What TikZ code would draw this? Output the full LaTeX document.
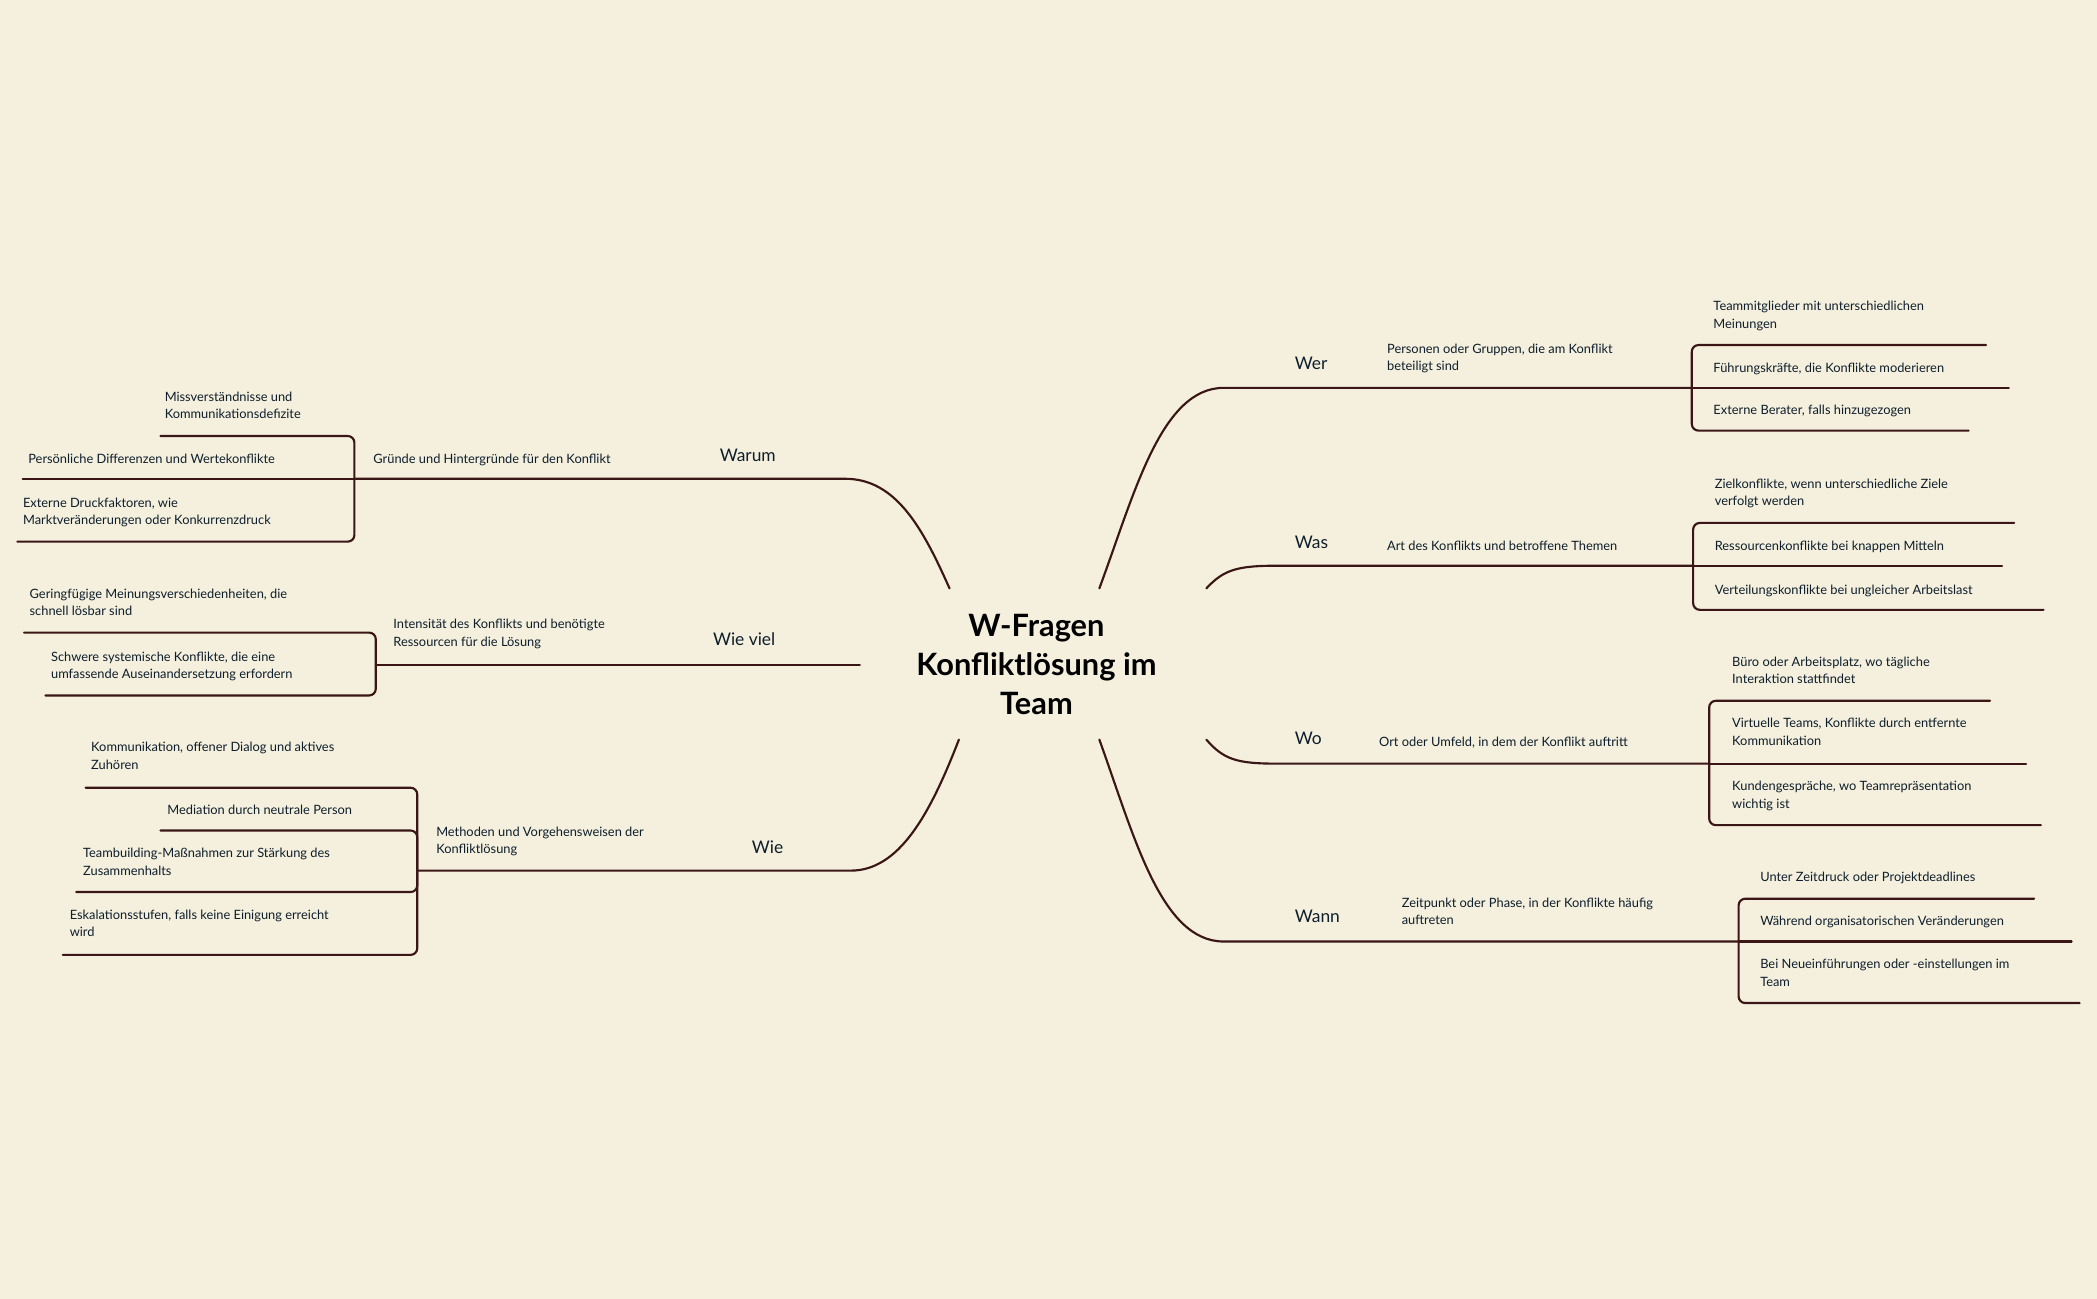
\documentclass[tikz,border=0pt]{standalone}
\usepackage{fontspec}
\setmainfont{Lato}
\usetikzlibrary{positioning}
\definecolor{paper}{HTML}{F4F0DD}
\definecolor{ink}{HTML}{3A1616}
\definecolor{txt}{HTML}{0E1E2C}
\tikzset{
  branch/.style={draw=ink, line width=1.6pt, line cap=round},
  bracket/.style={branch, rounded corners=5pt},
  leaf/.style={font=\fontsize{9.6}{13}\selectfont, text=txt, anchor=north west, align=left, inner sep=0pt},
  key/.style={font=\fontsize{13}{15}\selectfont, text=txt, anchor=base west, inner sep=0pt},
  root/.style={font=\bfseries\fontsize{23}{29}\selectfont, text=black, align=center}
}
\begin{document}
\begin{tikzpicture}[x=1pt, y=-1pt]
\useasboundingbox[fill=paper] (0,0) rectangle (1568,971);

% centre
\node (root) [root] at (775,497) {W-Fragen\\Konfliktlösung im\\Team};

% Wer
\coordinate (wer-s) at (822,440); \coordinate (wer-b) at (1265,290);
\draw[branch] (wer-s) .. controls (848,370) and (868,290) .. (915,290) -- (wer-b);
\node (wer) [key] at (968,276) {Wer};
\node (wer-t) [leaf] at (1037,257) {Personen oder Gruppen, die am Konflikt\\beteiligt sind};
\coordinate (wer1) at (1485,258); \coordinate (wer2) at (1502,290); \coordinate (wer3) at (1472,322);
\draw[bracket] (wer1) -| (wer-b) |- (wer3);
\draw[branch] (wer-b) -- (wer2);
\node [leaf] at (1281,225) {Teammitglieder mit unterschiedlichen\\Meinungen};
\node [leaf] at (1281,271) {Führungskräfte, die Konflikte moderieren};
\node [leaf] at (1281,303) {Externe Berater, falls hinzugezogen};

% Was
\coordinate (was-s) at (902,440); \coordinate (was-b) at (1266,423);
\draw[branch] (was-s) .. controls (915,426) and (925,423) .. (955,423) -- (was-b);
\node (was) [key] at (968,410) {Was};
\node (was-t) [leaf] at (1037,404) {Art des Konflikts und betroffene Themen};
\coordinate (was1) at (1506,391); \coordinate (was2) at (1497,423); \coordinate (was3) at (1528,456);
\draw[bracket] (was1) -| (was-b) |- (was3);
\draw[branch] (was-b) -- (was2);
\node [leaf] at (1282,358) {Zielkonflikte, wenn unterschiedliche Ziele\\verfolgt werden};
\node [leaf] at (1282,404) {Ressourcenkonflikte bei knappen Mitteln};
\node [leaf] at (1282,437) {Verteilungskonflikte bei ungleicher Arbeitslast};

% Wo
\coordinate (wo-s) at (902,553); \coordinate (wo-b) at (1278,571);
\draw[branch] (wo-s) .. controls (915,568) and (925,571) .. (955,571) -- (wo-b);
\node (wo) [key] at (968,557) {Wo};
\node (wo-t) [leaf] at (1031,551) {Ort oder Umfeld, in dem der Konflikt auftritt};
\coordinate (wo1) at (1488,524); \coordinate (wo2) at (1515,571); \coordinate (wo3) at (1526,617);
\draw[bracket] (wo1) -| (wo-b) |- (wo3);
\draw[branch] (wo-b) -- (wo2);
\node [leaf] at (1295,491) {Büro oder Arbeitsplatz, wo tägliche\\Interaktion stattfindet};
\node [leaf] at (1295,537) {Virtuelle Teams, Konflikte durch entfernte\\Kommunikation};
\node [leaf] at (1295,584) {Kundengespräche, wo Teamrepräsentation\\wichtig ist};

% Wann
\coordinate (wann-s) at (822,553); \coordinate (wann-b) at (1300,704);
\draw[branch] (wann-s) .. controls (848,625) and (868,704) .. (915,704) -- (wann-b);
\node (wann) [key] at (968,690) {Wann};
\node (wann-t) [leaf] at (1048,671) {Zeitpunkt oder Phase, in der Konflikte häufig\\auftreten};
\coordinate (wann1) at (1521,672); \coordinate (wann2) at (1549,704); \coordinate (wann3) at (1555,750);
\draw[bracket] (wann1) -| (wann-b) |- (wann3);
\draw[branch] (wann-b) -- (wann2);
\node [leaf] at (1316,652) {Unter Zeitdruck oder Projektdeadlines};
\node [leaf] at (1316,685) {Während organisatorischen Veränderungen};
\node [leaf] at (1316,717) {Bei Neueinführungen oder -einstellungen im\\Team};

% Warum
\coordinate (warum-s) at (710,440); \coordinate (warum-b) at (265,358);
\draw[branch] (warum-s) .. controls (690,395) and (670,358) .. (632,358) -- (warum-b);
\node (warum) [key] at (538,345) {Warum};
\node (warum-t) [leaf] at (279,339) {Gründe und Hintergründe für den Konflikt};
\coordinate (warum1) at (120,326); \coordinate (warum2) at (17,358); \coordinate (warum3) at (13,405);
\draw[bracket] (warum1) -| (warum-b) |- (warum3);
\draw[branch] (warum-b) -- (warum2);
\node [leaf] at (123,293) {Missverständnisse und\\Kommunikationsdefizite};
\node [leaf] at (21,339) {Persönliche Differenzen und Wertekonflikte};
\node [leaf] at (17,372) {Externe Druckfaktoren, wie\\Marktveränderungen oder Konkurrenzdruck};

% Wie viel
\coordinate (wieviel-s) at (643,497); \coordinate (wieviel-b) at (281,497);
\draw[branch] (wieviel-s) -- (wieviel-b);
\node (wieviel) [key] at (533,483) {Wie viel};
\node (wieviel-t) [leaf] at (294,463) {Intensität des Konflikts und benötigte\\Ressourcen für die Lösung};
\coordinate (wieviel1) at (18,473); \coordinate (wieviel2) at (34,520);
\draw[bracket] (wieviel1) -| (wieviel-b) |- (wieviel2);
\node [leaf] at (22,440) {Geringfügige Meinungsverschiedenheiten, die\\schnell lösbar sind};
\node [leaf] at (38,487) {Schwere systemische Konflikte, die eine\\umfassende Auseinandersetzung erfordern};

% Wie
\coordinate (wie-s) at (717,553); \coordinate (wie-b) at (312,651);
\draw[branch] (wie-s) .. controls (695,610) and (672,651) .. (636,651) -- (wie-b);
\node (wie) [key] at (562,638) {Wie};
\node (wie-t) [leaf] at (326,618) {Methoden und Vorgehensweisen der\\Konfliktlösung};
\coordinate (wie1) at (64,589); \coordinate (wie2) at (120,621); \coordinate (wie3) at (57,667); \coordinate (wie4) at (47,714);
\draw[bracket] (wie1) -| (wie-b) |- (wie4);
\draw[bracket] (wie2) -| (wie-b);
\draw[bracket] (wie3) -| (wie-b);
\node [leaf] at (68,555) {Kommunikation, offener Dialog und aktives\\Zuhören};
\node [leaf] at (125,602) {Mediation durch neutrale Person};
\node [leaf] at (62,634) {Teambuilding-Maßnahmen zur Stärkung des\\Zusammenhalts};
\node [leaf] at (52,680) {Eskalationsstufen, falls keine Einigung erreicht\\wird};
\end{tikzpicture}
\end{document}
